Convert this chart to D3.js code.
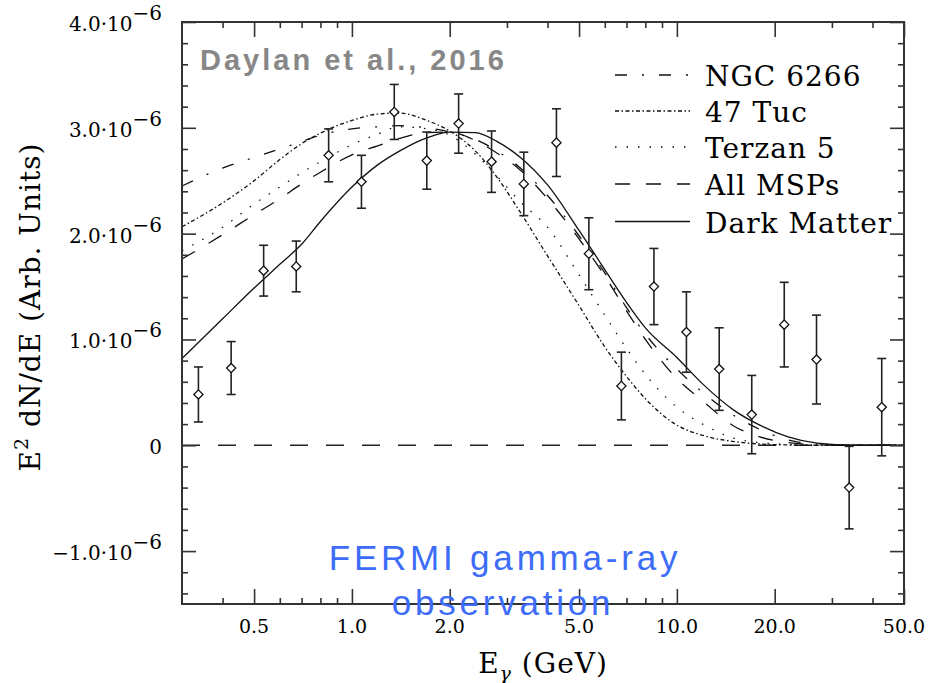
<!DOCTYPE html>
<html>
<head>
<meta charset="utf-8">
<script src="https://cdn.jsdelivr.net/npm/d3@7/dist/d3.min.js"></script>
<style>
  body { margin: 0; background: #fff; }
  svg text { font-family: "DejaVu Serif", serif; }
  svg text.sans { font-family: "Liberation Sans", Arial, sans-serif; }
</style>
</head>
<body>
<div id="chart"></div>
<script>
// energy bins (GeV) and measured E^2 dN/dE in units of 1e-6
var binE    = [0.337, 0.425, 0.535, 0.674, 0.848, 1.07, 1.35, 1.70, 2.13, 2.69, 3.38,
               4.26, 5.36, 6.75, 8.50, 10.7, 13.5, 17.0, 21.4, 26.9, 33.9, 42.7]
var flux    = [0.48, 0.73, 1.65, 1.69, 2.74, 2.49, 3.15, 2.69, 3.04, 2.68, 2.47,
               2.86, 1.81, 0.56, 1.50, 1.07, 0.72, 0.29, 1.14, 0.81, -0.40, 0.36]
var fluxErr = [0.26, 0.25, 0.24, 0.24, 0.25, 0.25, 0.26, 0.27, 0.28, 0.29, 0.30,
               0.32, 0.34, 0.32, 0.36, 0.38, 0.39, 0.37, 0.40, 0.42, 0.39, 0.46]

// model spectra sampled on a common energy grid
var modelE     = [0.3, 0.4, 0.5, 0.6, 0.7, 0.8, 1.0, 1.2, 1.4, 1.7, 2.0, 2.4, 2.8, 3.3,
                  4.0, 5.0, 6.0, 7.0, 8.0, 10, 12, 15, 18, 22, 27, 35, 50]
var ngc6266    = [2.45, 2.62, 2.72, 2.80, 2.87, 2.93, 2.99, 3.01, 3.02, 3.00, 2.96, 2.89, 2.78, 2.62,
                  2.36, 1.98, 1.63, 1.30, 1.05, 0.72, 0.50, 0.28, 0.15, 0.05, 0.01, 0, 0]
var tuc47      = [2.065, 2.29, 2.50, 2.70, 2.85, 2.95, 3.07, 3.13, 3.14, 3.07, 2.97, 2.78, 2.53, 2.20,
                  1.79, 1.32, 0.93, 0.65, 0.44, 0.19, 0.094, 0.035, 0.012, 0.003, 0, 0, 0]
var terzan5    = [1.84, 2.06, 2.28, 2.44, 2.575, 2.68, 2.84, 2.94, 3.01, 2.99, 2.93, 2.75, 2.54, 2.30,
                  2.06, 1.61, 1.23, 0.915, 0.67, 0.36, 0.20, 0.066, 0.025, 0.008, 0, 0, 0]
var allMSPs    = [1.76, 1.99, 2.18, 2.33, 2.47, 2.58, 2.745, 2.83, 2.90, 2.955, 2.96, 2.88, 2.76, 2.60,
                  2.33, 1.95, 1.60, 1.27, 1.00, 0.63, 0.42, 0.18, 0.08, 0.025, 0.005, 0, 0]
var darkMatter = [0.82, 1.195, 1.486, 1.71, 1.90, 2.115, 2.44, 2.65, 2.78, 2.905, 2.96, 2.955, 2.87, 2.72,
                  2.46, 2.03, 1.66, 1.35, 1.11, 0.83, 0.58, 0.33, 0.19, 0.08, 0.02, 0, 0]

var modelNames = ['NGC 6266', '47 Tuc', 'Terzan 5', 'All MSPs', 'Dark Matter']
var modelDash  = ['12,15,2,15', '4,2.5,1.5,2.5', '1.5,10', '15,16', null]

var xMajor = [0.5, 1, 2, 5, 10, 20, 50]
var xMajorLabels = ['0.5', '1.0', '2.0', '5.0', '10.0', '20.0', '50.0']
var xMinor = [0.4, 0.6, 0.7, 0.8, 0.9, 3, 4, 6, 7, 8, 9, 30, 40]
var yMajor = [-1, 0, 1, 2, 3, 4]
var yMajorLabels = ['\u22121.0', '0', '1.0', '2.0', '3.0', '4.0']
var yMinor = [-1.4, -1.2, -0.8, -0.6, -0.4, -0.2, 0.2, 0.4, 0.6, 0.8, 1.2, 1.4, 1.6, 1.8,
              2.2, 2.4, 2.6, 2.8, 3.2, 3.4, 3.6, 3.8]

var w = 928
  , h = 683
  , m = { left: 182, right: 24, top: 22, bottom: 79 }

var x = d3.scaleLog().domain([0.3, 50]).range([m.left, w - m.right])
var y = d3.scaleLinear().domain([-1.5, 4]).range([h - m.bottom, m.top])

var svg = d3.select('#chart').append('svg').attr('width', w).attr('height', h)

// zero line
svg.append('line')
  .attr('x1', x.range()[0]).attr('x2', x.range()[1])
  .attr('y1', y(0)).attr('y2', y(0))
  .attr('stroke', '#222').attr('stroke-width', 1.3)
  .attr('stroke-dasharray', '18,18')

// model curves
var line = d3.line()
  .x(function (d) { return x(d[0]) })
  .y(function (d) { return y(d[1]) })
  .curve(d3.curveMonotoneX)

var models = [ngc6266, tuc47, terzan5, allMSPs, darkMatter]
models.forEach(function (vals, i) {
  svg.append('path')
    .datum(modelE.map(function (e, j) { return [e, vals[j]] }))
    .attr('d', line)
    .attr('fill', 'none')
    .attr('stroke', '#111')
    .attr('stroke-width', 1.3)
    .attr('stroke-dasharray', modelDash[i])
})

// data points
var pts = svg.append('g').selectAll('g').data(binE).enter().append('g')
  .attr('transform', function (d) { return 'translate(' + x(d) + ',0)' })

pts.append('line')
  .attr('y1', function (d, i) { return y(flux[i] - fluxErr[i]) })
  .attr('y2', function (d, i) { return y(flux[i] + fluxErr[i]) })
  .attr('stroke', '#222').attr('stroke-width', 1.6)
pts.append('line')
  .attr('x1', -4.5).attr('x2', 4.5)
  .attr('y1', function (d, i) { return y(flux[i] + fluxErr[i]) })
  .attr('y2', function (d, i) { return y(flux[i] + fluxErr[i]) })
  .attr('stroke', '#222').attr('stroke-width', 1.6)
pts.append('line')
  .attr('x1', -4.5).attr('x2', 4.5)
  .attr('y1', function (d, i) { return y(flux[i] - fluxErr[i]) })
  .attr('y2', function (d, i) { return y(flux[i] - fluxErr[i]) })
  .attr('stroke', '#222').attr('stroke-width', 1.6)
pts.append('path')
  .attr('d', function (d, i) {
    var c = y(flux[i]), s = 4.6
    return 'M0,' + (c - s) + 'L' + s + ',' + c + 'L0,' + (c + s) + 'L' + (-s) + ',' + c + 'Z'
  })
  .attr('fill', '#fff').attr('stroke', '#111').attr('stroke-width', 1.3)

// axes: major and minor ticks on all four sides, pointing inward
function styleAxis (g) {
  g.select('.domain').remove()
  g.selectAll('line').attr('stroke', '#333').attr('stroke-width', 1.6)
  g.selectAll('text').remove()
}
var bottom = h - m.bottom, right = w - m.right
;[[d3.axisBottom, bottom], [d3.axisTop, m.top]].forEach(function (a) {
  svg.append('g').attr('transform', 'translate(0,' + a[1] + ')')
    .call(a[0](x).tickValues(xMajor).tickSize(-15)).call(styleAxis)
  svg.append('g').attr('transform', 'translate(0,' + a[1] + ')')
    .call(a[0](x).tickValues(xMinor).tickSize(-6)).call(styleAxis)
})
;[[d3.axisLeft, m.left], [d3.axisRight, right]].forEach(function (a) {
  svg.append('g').attr('transform', 'translate(' + a[1] + ',0)')
    .call(a[0](y).tickValues(yMajor).tickSize(-14)).call(styleAxis)
  svg.append('g').attr('transform', 'translate(' + a[1] + ',0)')
    .call(a[0](y).tickValues(yMinor).tickSize(-6)).call(styleAxis)
})

svg.append('rect')
  .attr('x', m.left).attr('y', m.top)
  .attr('width', right - m.left).attr('height', bottom - m.top)
  .attr('fill', 'none').attr('stroke', '#333').attr('stroke-width', 2)

// tick labels
svg.append('g').selectAll('text').data(xMajor).enter().append('text')
  .attr('x', function (d) { return x(d) })
  .attr('y', bottom + 29)
  .attr('text-anchor', 'middle')
  .attr('font-size', 19)
  .text(function (d, i) { return xMajorLabels[i] })

var yl = svg.append('g').selectAll('text').data(yMajor).enter().append('text')
  .attr('x', 162)
  .attr('y', function (d) { return y(d) + 9 })
  .attr('text-anchor', 'end')
  .attr('font-size', 20)
yl.append('tspan').text(function (d, i) { return d === 0 ? yMajorLabels[i] : yMajorLabels[i] + '\u00b710' })
yl.append('tspan').attr('dy', -11)
  .text(function (d) { return d === 0 ? '' : '\u22126' })

// axis titles
var yt = svg.append('text')
  .attr('transform', 'translate(40,307) rotate(-90)')
  .attr('text-anchor', 'middle')
  .attr('font-size', 28)
  .attr('letter-spacing', 1)
yt.append('tspan').text('E')
yt.append('tspan').attr('dy', -12).attr('font-size', 19).text('2')
yt.append('tspan').attr('dy', 12).text(' dN/dE (Arb. Units)')

var xt = svg.append('text')
  .attr('x', (m.left + right) / 2).attr('y', 673)
  .attr('text-anchor', 'middle')
  .attr('font-size', 28)
  .attr('letter-spacing', 1)
xt.append('tspan').text('E')
xt.append('tspan').attr('dy', 7).attr('font-size', 19).attr('font-style', 'italic').text('\u03b3')
xt.append('tspan').attr('dy', -7).text(' (GeV)')

// legend
var rows = [75, 111, 147, 184, 221.5]
var leg = svg.append('g').selectAll('g').data(modelNames).enter().append('g')
  .attr('transform', function (d, i) { return 'translate(0,' + rows[i] + ')' })
leg.append('line')
  .attr('x1', 615).attr('x2', 690)
  .attr('stroke', '#111').attr('stroke-width', 1.3)
  .attr('stroke-dasharray', function (d, i) { return modelDash[i] })
leg.append('text')
  .attr('x', 705).attr('y', 11)
  .attr('font-size', 28)
  .attr('letter-spacing', 1)
  .text(function (d) { return d })

// annotations
svg.append('text')
  .attr('class', 'sans')
  .attr('x', 200).attr('y', 70)
  .attr('font-weight', 'bold')
  .attr('font-size', 29)
  .attr('letter-spacing', 3)
  .attr('fill', '#878787')
  .text('Daylan et al., 2016')

var note = svg.append('g')
  .attr('font-size', 35)
  .attr('letter-spacing', 3.8)
  .attr('fill', '#3d6cf8')
  .attr('text-anchor', 'middle')
note.append('text').attr('class', 'sans').attr('x', 505).attr('y', 570).text('FERMI gamma-ray')
note.append('text').attr('class', 'sans').attr('x', 503).attr('y', 615).text('observation')
</script>
</body>
</html>
